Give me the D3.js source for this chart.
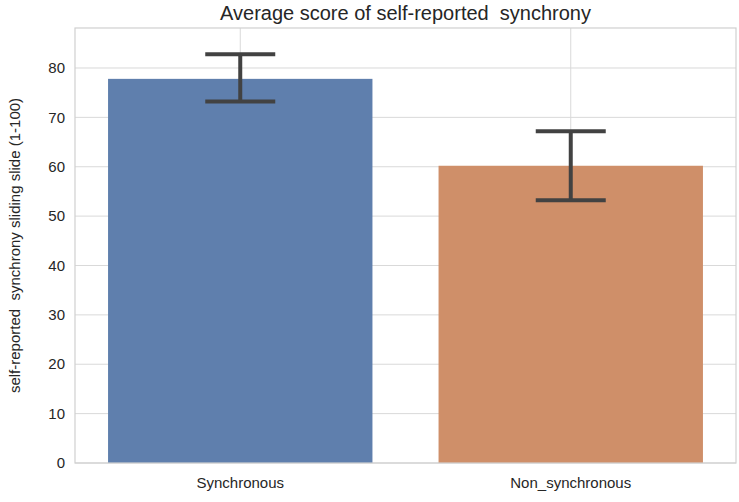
<!DOCTYPE html><html><head><script src="https://cdn.jsdelivr.net/npm/d3@7"></script>
<style>body{margin:0;background:#fff}text{font-family:Arial,"Liberation Sans",sans-serif}</style></head><body>
<svg id="c" width="739" height="502"></svg>
<script>
const categories=["Synchronous","Non_synchronous"];
const means=[77.8,60.2];
const lows=[73.2,53.2];
const highs=[82.8,67.2];
const colors=["#5f7fad","#cf8f69"];
const yTicks=[0,10,20,30,40,50,60,70,80];
const svg=d3.select("#c");
const L=75,R=736,T=28,B=463;
const x=d3.scaleBand().domain(categories).range([L,R]).paddingInner(0).paddingOuter(0);
const y=d3.scaleLinear().domain([0,88.1]).range([B,T]);
const g=svg.append("g");
yTicks.forEach(t=>g.append("line").attr("x1",L).attr("x2",R).attr("y1",y(t)).attr("y2",y(t)).attr("stroke","#d9d9d9").attr("stroke-width",1));
categories.forEach(c=>g.append("line").attr("x1",x(c)+x.bandwidth()/2).attr("x2",x(c)+x.bandwidth()/2).attr("y1",T).attr("y2",B).attr("stroke","#d9d9d9"));
const bw=x.bandwidth()*0.8;
categories.forEach((c,i)=>{
 const cx=x(c)+x.bandwidth()/2;
 g.append("rect").attr("x",cx-bw/2).attr("width",bw).attr("y",y(means[i])).attr("height",B-y(means[i])).attr("fill",colors[i]);
 const col="#424242";
 g.append("line").attr("x1",cx).attr("x2",cx).attr("y1",y(lows[i])).attr("y2",y(highs[i])).attr("stroke",col).attr("stroke-width",4);
 [lows[i],highs[i]].forEach(v=>g.append("line").attr("x1",cx-35).attr("x2",cx+35).attr("y1",y(v)).attr("y2",y(v)).attr("stroke",col).attr("stroke-width",4));
});
g.append("rect").attr("x",L).attr("y",T).attr("width",R-L).attr("height",B-T).attr("fill","none").attr("stroke","#d0d0d0").attr("stroke-width",1.2);
yTicks.forEach(t=>g.append("text").attr("x",L-10).attr("y",y(t)).attr("dy","0.35em").attr("text-anchor","end").attr("font-size",15).attr("fill","#262626").text(t));
categories.forEach(c=>g.append("text").attr("x",x(c)+x.bandwidth()/2).attr("y",B+25).attr("text-anchor","middle").attr("font-size",15).attr("fill","#262626").text(c));
svg.append("text").attr("transform",`translate(20,${(T+B)/2}) rotate(-90)`).attr("text-anchor","middle").attr("font-size",15).attr("fill","#262626").attr("xml:space","preserve").text("self-reported  synchrony sliding slide (1-100)");
svg.append("text").attr("x",(L+R)/2).attr("y",20).attr("text-anchor","middle").attr("font-size",20).attr("fill","#262626").attr("xml:space","preserve").text("Average score of self-reported  synchrony");
</script></body></html>
